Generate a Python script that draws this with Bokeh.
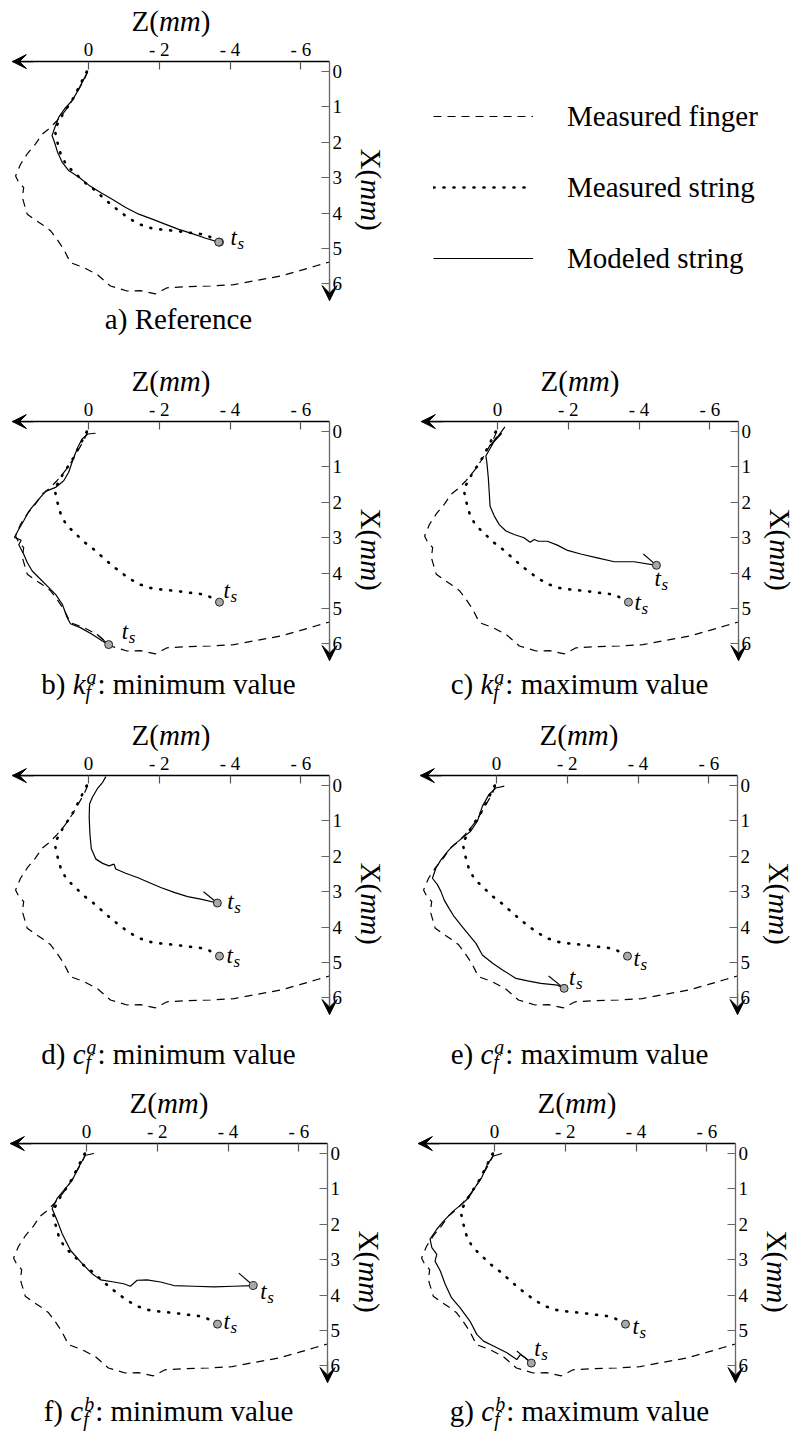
import math
from bokeh.plotting import figure
from bokeh.models import (Range1d, LinearAxis, FixedTicker, CustomJSTickFormatter,
                          Label, Arrow, VeeHead, Legend, LegendItem, Grid)
from bokeh.layouts import column, row
from bokeh.embed import file_html
from bokeh.resources import INLINE

# ---------------- data (mm) : Z horizontal, X vertical ----------------
finger_z = [0.02, 0.13, 0.27, 0.46, 0.65, 0.89, 1.12, 1.31, 1.50, 1.73, 1.92, 2.06, 1.97, 1.83,
            1.87, 1.73, 1.54, 1.31, 1.07, 0.89, 0.70, 0.51, 0.13, -0.24, -0.62, -1.09, -1.47,
            -1.89, -2.22, -2.79, -3.45, -4.11, -4.76, -5.42, -5.99, -6.46, -6.81]
finger_x = [0.00, 0.25, 0.49, 0.82, 1.10, 1.39, 1.62, 1.77, 2.05, 2.33, 2.62, 2.95, 3.13, 3.28,
            3.56, 4.03, 4.17, 4.32, 4.50, 4.74, 5.02, 5.40, 5.54, 5.73, 6.06, 6.20, 6.19,
            6.28, 6.11, 6.08, 6.06, 6.02, 5.90, 5.78, 5.62, 5.48, 5.38]

string_z = [0.05, 0.15, 0.25, 0.40, 0.55, 0.70, 0.82, 0.95, 0.92, 0.85, 0.78, 0.62, 0.40, 0.15,
            -0.15, -0.40, -0.65, -0.90, -1.15, -1.45, -1.75, -2.10, -2.45, -2.80, -3.10, -3.35,
            -3.50, -3.70]
string_x = [0.00, 0.20, 0.40, 0.70, 0.95, 1.15, 1.40, 1.60, 1.85, 2.10, 2.35, 2.65, 2.85, 3.10,
            3.33, 3.55, 3.77, 3.97, 4.15, 4.32, 4.42, 4.47, 4.50, 4.55, 4.58, 4.62, 4.72, 4.82]

model_a_z = [0.02, 0.15, 0.30, 0.46, 0.68, 0.84, 0.95, 1.03, 0.96, 0.87, 0.74, 0.56, 0.27, -0.01,
             -0.34, -0.67, -1.05, -1.42, -1.80, -2.18, -2.55, -2.93, -3.31, -3.68]
model_a_x = [0.00, 0.25, 0.54, 0.82, 1.06, 1.29, 1.58, 1.81, 2.00, 2.29, 2.57, 2.80, 2.99, 3.21,
             3.42, 3.61, 3.84, 4.03, 4.17, 4.32, 4.46, 4.58, 4.71, 4.82]

model_b_z = [-0.20, 0.02, 0.18, 0.30, 0.43, 0.56, 0.70, 0.93, 1.21, 1.36, 1.54, 1.69, 1.83, 1.97,
             2.09, 1.90, 1.97, 1.83, 1.73, 1.59, 1.40, 1.17, 0.93, 0.74, 0.60, 0.51, 0.23, -0.10,
             -0.39, -0.57]
model_b_x = [0.05, 0.07, 0.21, 0.44, 0.77, 1.15, 1.39, 1.58, 1.69, 1.86, 2.07, 2.26, 2.52, 2.76,
             2.99, 3.07, 3.20, 3.47, 3.70, 3.94, 4.13, 4.36, 4.60, 4.88, 5.26, 5.43, 5.54, 5.73,
             5.92, 6.02]

model_c_z = [-0.21, 0.05, -0.12, 0.20, 0.02, 0.33, 0.30, 0.26, 0.23, 0.21, 0.09, -0.05, -0.24,
             -0.47, -0.75, -0.92, -1.04, -1.15, -1.41, -1.69, -1.98, -2.35, -2.82, -3.30, -3.86,
             -4.49]
model_c_x = [-0.13, 0.22, 0.05, 0.40, 0.15, 0.69, 0.88, 1.30, 1.78, 2.11, 2.39, 2.63, 2.81,
             2.91, 3.00, 3.13, 3.05, 3.10, 3.10, 3.21, 3.36, 3.46, 3.57, 3.68, 3.68, 3.78]

model_d_z = [-0.49, -0.40, -0.25, -0.11, -0.03, -0.02, -0.04, -0.08, -0.21, -0.40, -0.58, -0.72,
             -0.77, -1.05, -1.38, -1.71, -2.04, -2.42, -2.80, -3.17, -3.64]
model_d_x = [-0.25, -0.09, 0.09, 0.33, 0.52, 0.90, 1.37, 1.79, 2.08, 2.20, 2.27, 2.22,
             2.36, 2.48, 2.60, 2.74, 2.88, 3.02, 3.14, 3.21, 3.32]

model_e_z = [-0.22, 0.02, 0.21, 0.40, 0.54, 0.73, 0.96, 1.20, 1.38, 1.57, 1.71, 1.81, 1.67, 1.57,
             1.48, 1.34, 1.20, 1.01, 0.82, 0.58, 0.40, 0.11, -0.17, -0.55, -0.88, -1.25, -1.72,
             -1.91]
model_e_x = [0.02, 0.07, 0.25, 0.59, 1.01, 1.29, 1.48, 1.67, 1.86, 2.10, 2.33, 2.62, 2.80, 2.99,
             3.23, 3.47, 3.70, 3.94, 4.17, 4.46, 4.79, 5.02, 5.21, 5.45, 5.52, 5.59, 5.64, 5.73]

model_f_z = [-0.21, 0.03, 0.22, 0.40, 0.64, 0.83, 0.97, 0.83, 0.69, 0.45, 0.12, -0.16, -0.40,
             -0.77, -1.05, -1.24, -1.43, -1.71, -2.09, -2.47, -3.03, -3.60, -4.16, -4.71]
model_f_x = [0.00, 0.05, 0.38, 0.75, 1.04, 1.27, 1.56, 1.89, 2.26, 2.74, 3.11, 3.40, 3.57,
             3.63, 3.68, 3.75, 3.58, 3.57, 3.63, 3.73, 3.75, 3.77, 3.75, 3.73]

model_g_z = [-0.21, 0.03, 0.20, 0.36, 0.55, 0.73, 0.92, 1.16, 1.44, 1.63, 1.82, 1.77, 1.63, 1.68,
             1.53, 1.39, 1.21, 0.97, 0.69, 0.50, 0.31, 0.03, -0.35, -0.63, -0.73, -0.87, -1.04]
model_g_x = [0.00, 0.07, 0.30, 0.68, 0.96, 1.25, 1.43, 1.62, 1.91, 2.14, 2.42, 2.66, 2.85, 3.04,
             3.32, 3.70, 4.08, 4.36, 4.74, 5.11, 5.30, 5.44, 5.63, 5.82, 5.68, 5.77, 5.92]

# start of the short stroke that ends at the modeled t_s point (none visible in panel a)
tail_z = {"a": None, "b": -0.24, "c": -4.12, "d": -3.25, "e": -1.47, "f": -4.30, "g": -0.63}
tail_x = {"a": None, "b": 5.73, "c": 3.46, "d": 3.00, "e": 5.38, "f": 3.38, "g": 5.58}

z_ticks = [0, -2, -4, -6]
x_ticks = [0, 1, 2, 3, 4, 5, 6]
legend_labels = ["Measured finger", "Measured string", "Modeled string"]
captions = {
    "a": "a) Reference",
    "b": ("b", "k", "a", ": minimum value"),
    "c": ("c", "k", "a", ": maximum value"),
    "d": ("d", "c", "a", ": minimum value"),
    "e": ("e", "c", "a", ": maximum value"),
    "f": ("f", "c", "b", ": minimum value"),
    "g": ("g", "c", "b", ": maximum value"),
}

# ---------------- geometry / style ----------------
S = 35.4                      # px per mm
Z_LEFT, Z_RIGHT = 2.15, -6.81
X_TOP, X_TIP = -0.28, 6.47
FONT = "Liberation Serif"
BIG = 29

REG = {' ': 250, ')': 333, '(': 333, ':': 278, '-': 333, 'a': 444, 'b': 500, 'c': 444, 'd': 500,
       'e': 444, 'f': 333, 'g': 500, 'i': 278, 'l': 278, 'm': 778, 'n': 500, 'r': 333, 's': 389,
       't': 278, 'u': 500, 'v': 500, 'x': 500, 'M': 889, 'R': 667, 'Z': 611, 'X': 722}
ITA = {'k': 444, 'c': 444, 'a': 500, 'b': 500, 'f': 278, 'm': 722, 't': 278, 's': 389}


def tw(s, size, italic=False):
    tab = ITA if italic else REG
    return sum(tab.get(ch, 500) for ch in s) * size / 1000.0


def put(p, H, x, base, text, size=BIG, italic=False, align="left", angle=0.0, mid=None):
    """place text; `base` = baseline (px from top) unless mid (centre line) is given"""
    yc = mid if mid is not None else base - 0.34 * size
    p.add_layout(Label(x=x, y=H - yc, x_units="screen", y_units="screen", text=text,
                       text_font=FONT, text_font_size=f"{size}px",
                       text_font_style="italic" if italic else "normal",
                       text_align=align, text_baseline="middle", angle=angle,
                       text_color="black"))


def ts_label(p, z, x, off):
    dx, dy = off
    p.add_layout(Label(x=z, y=x, x_offset=dx, y_offset=-(dy - 0.34 * 23), text="t",
                       text_font=FONT, text_font_size="23px", text_font_style="italic",
                       text_baseline="middle", text_color="black"))
    p.add_layout(Label(x=z, y=x, x_offset=dx + 7, y_offset=-(dy + 4 - 0.34 * 17), text="s",
                       text_font=FONT, text_font_size="17px", text_font_style="italic",
                       text_baseline="middle", text_color="black"))


def build(key, W, H, z0, x0, mz, mx, off_s, off_m, cap_cx, cap_base):
    p = figure(width=W, height=H,
               x_range=Range1d(z0 / S, -(W - z0) / S),
               y_range=Range1d((H - x0) / S, -x0 / S),
               x_axis_location=None, y_axis_location=None, title=None,
               toolbar_location=None, output_backend="svg", min_border=0)
    p.center = [c for c in p.center if not isinstance(c, Grid)]
    p.outline_line_color = None
    p.background_fill_color = "white"
    p.border_fill_color = "white"

    top = LinearAxis(fixed_location=X_TOP, bounds=(Z_RIGHT, Z_LEFT),
                     ticker=FixedTicker(ticks=z_ticks),
                     formatter=CustomJSTickFormatter(
                         code="return tick == 0 ? '0' : '- ' + Math.abs(tick);"),
                     major_tick_in=8, major_tick_out=0, minor_tick_line_color=None,
                     major_label_standoff=2, major_label_text_font=FONT,
                     major_label_text_font_size="19px", major_label_text_color="black",
                     axis_line_color="black", axis_line_width=1.3,
                     major_tick_line_color="#555555", major_tick_line_width=1.2)
    p.add_layout(top, "above")
    right = LinearAxis(fixed_location=Z_RIGHT, bounds=(X_TOP, X_TIP),
                       ticker=FixedTicker(ticks=x_ticks),
                       major_tick_in=8, major_tick_out=0, minor_tick_line_color=None,
                       major_label_standoff=3, major_label_text_font=FONT,
                       major_label_text_font_size="19px", major_label_text_color="black",
                       axis_line_color="#666666", axis_line_width=1.3,
                       major_tick_line_color="#666666", major_tick_line_width=1.2)
    p.add_layout(right, "right")
    p.add_layout(Arrow(end=VeeHead(size=14, fill_color="black", line_color="black", line_width=1),
                       x_start=Z_LEFT - 0.6, y_start=X_TOP, x_end=Z_LEFT, y_end=X_TOP,
                       line_color="black", line_width=1.3))
    p.add_layout(Arrow(end=VeeHead(size=15, fill_color="black", line_color="black", line_width=1),
                       x_start=Z_RIGHT, y_start=X_TIP - 0.6, x_end=Z_RIGHT, y_end=X_TIP,
                       line_color="#666666", line_width=1.3))

    rf = p.line(finger_z, finger_x, line_color="black", line_width=1.2, line_dash="8 6")
    rs = p.line(string_z, string_x, line_color="black", line_width=2.6, line_dash="1 9",
                line_cap="round")
    rm = p.line(mz, mx, line_color="black", line_width=1.2)
    if tail_z[key] is not None:
        p.segment(x0=[tail_z[key]], y0=[tail_x[key]], x1=[mz[-1]], y1=[mx[-1]],
                  line_color="black", line_width=1.1)
    p.scatter([string_z[-1], mz[-1]], [string_x[-1], mx[-1]], size=8,
              fill_color="#a8a8a8", line_color="#222222", line_width=1)

    ts_label(p, string_z[-1], string_x[-1], off_s)
    if off_m is not None:
        ts_label(p, mz[-1], mx[-1], off_m)

    # Z(mm) label above the top axis
    axis_y = x0 + X_TOP * S
    cx = z0 - S * (Z_LEFT + Z_RIGHT) / 2
    w1, w2, w3 = tw("Z(", BIG), tw("mm", BIG, True), tw(")", BIG)
    sx = cx - (w1 + w2 + w3) / 2
    by = axis_y - 31
    put(p, H, sx, by, "Z(")
    put(p, H, sx + w1, by, "mm", italic=True)
    put(p, H, sx + w1 + w2, by, ")")

    # X(mm) label, rotated, right of the right axis
    lx = z0 - Z_RIGHT * S + 41
    ly = axis_y + 87
    a = -math.pi / 2
    put(p, H, lx, None, "X(", angle=a, mid=ly)
    put(p, H, lx, None, "mm", italic=True, angle=a, mid=ly + tw("X(", BIG))
    put(p, H, lx, None, ")", angle=a, mid=ly + tw("X(", BIG) + tw("mm", BIG, True))

    # caption
    cap = captions[key]
    if isinstance(cap, str):
        put(p, H, cap_cx, cap_base, cap, align="center")
    else:
        letter, sym, sup, tail = cap
        c1 = tw(letter + ") ", BIG)
        c2 = tw(sym, BIG, True)
        c3 = max(tw(sup, 20, True), tw("f", 20, True)) + 2
        c4 = tw(tail, BIG)
        x = cap_cx - (c1 + c2 + c3 + c4) / 2
        put(p, H, x, cap_base, letter + ")")
        put(p, H, x + c1, cap_base, sym, italic=True)
        put(p, H, x + c1 + c2 + 1, cap_base - 10, sup, size=20, italic=True)
        put(p, H, x + c1 + c2, cap_base + 5, "f", size=20, italic=True)
        put(p, H, x + c1 + c2 + c3, cap_base, tail)
    return p, (rf, rs, rm)


# page = 796 x 1432 (no body margin); rows 345, 360, 373, 354 ; columns 408 + 388
pa, (rf, rs, rm) = build("a", 796, 345, 88, 71, model_a_z, model_a_x, (11, 3), None, 178, 328)
legend = Legend(items=[LegendItem(label=legend_labels[0], renderers=[rf]),
                       LegendItem(label=legend_labels[1], renderers=[rs]),
                       LegendItem(label=legend_labels[2], renderers=[rm])],
                location=(433, 69), orientation="vertical", glyph_width=100, glyph_height=36,
                label_height=36, spacing=35, label_standoff=34, padding=0, margin=0,
                border_line_color=None, background_fill_alpha=0,
                label_text_font=FONT, label_text_font_size="29px", label_text_color="black")
pa.add_layout(legend)

pb, _ = build("b", 408, 360, 88, 86, model_b_z, model_b_x, (4, -4), (13, -5), 168, 348)
pc, _ = build("c", 388, 360, 89, 86, model_c_z, model_c_x, (6, 8), (-2, 21), 171, 348)
pd, _ = build("d", 408, 373, 88, 80, model_d_z, model_d_x, (7, 7), (10, 6), 168, 358)
pe, _ = build("e", 388, 373, 88, 80, model_e_z, model_e_x, (6, 10), (5, -3), 171, 358)
pf, _ = build("f", 408, 354, 86, 75, model_f_z, model_f_x, (6, 5), (7, 14), 168, 342)
pg, _ = build("g", 388, 354, 86, 75, model_g_z, model_g_x, (7, 10), (3, -7), 171, 342)

layout = column(pa, row(pb, pc), row(pd, pe), row(pf, pg))
open("out.html", "w").write(file_html(layout, INLINE))
